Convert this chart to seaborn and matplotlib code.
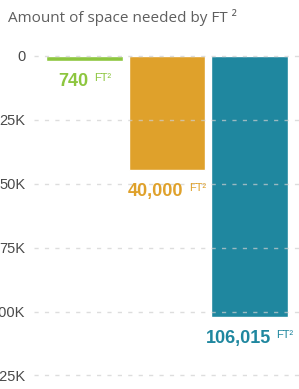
import numpy as np
import pandas as pd
import matplotlib
matplotlib.use('Agg')
import matplotlib.pyplot as plt
import seaborn as sns
from matplotlib.offsetbox import TextArea, HPacker, AnnotationBbox

# values (bar lengths as drawn, labels as printed)
categories = ['small', 'medium', 'large']
bar_values = [1800, 44700, 102200]
bar_labels = ['740', '40,000', '106,015']
colors = ['#8dc63f', '#dfa12b', '#1f879f']
yticks = [0, 25000, 50000, 75000, 100000, 125000]
ytick_labels = ['0', '25K', '50K', '75K', '100K', '125K']

df = pd.DataFrame({'cat': categories, 'val': bar_values})

sns.set_style('white')
plt.rcParams['font.family'] = ['Liberation Sans', 'DejaVu Sans']

fig = plt.figure(figsize=(2.99, 3.89), dpi=100)
ax = fig.add_axes([34 / 299, 0, 265 / 299, 341 / 389])

sns.barplot(data=df, x='cat', y='val', hue='cat', palette=colors,
            width=0.93, legend=False, saturation=1, ax=ax)

ax.set_ylim(130300, -3100)
ax.set_xlim(-0.61, 2.6)
ax.set_yticks(yticks)
ax.set_yticklabels(ytick_labels, color='#4a4a4a', fontsize=10.5)
ax.tick_params(axis='y', length=0, pad=6)
ax.set_xticks([])
ax.set_xlabel('')
ax.set_ylabel('')
for s in ax.spines.values():
    s.set_visible(False)

ax.set_axisbelow(False)
ax.yaxis.grid(True, color='#cfcfcf', linewidth=1, linestyle=(0, (3, 4.5)), alpha=0.7)

# number + small superscript unit under each bar
narrow = ['Liberation Sans Narrow', 'Liberation Sans', 'DejaVu Sans']
for i, (v, lab) in enumerate(zip(bar_values, bar_labels)):
    num = TextArea(lab, textprops=dict(fontsize=13, fontweight='bold',
                                       color=colors[i], family=narrow))
    unit = TextArea('FT\u00b2', textprops=dict(fontsize=8, color=colors[i], family=narrow))
    box = HPacker(children=[num, unit], align='top', pad=0, sep=4)
    ab = AnnotationBbox(box, (i, v), xybox=(0, -15), boxcoords='offset points',
                        frameon=False, box_alignment=(0.5, 0.5))
    ax.add_artist(ab)

fig.text(8 / 299, 1 - 18 / 389, 'Amount of space needed by FT \u00b2',
         family=['Open Sans', 'DejaVu Sans'], fontsize=11, color='#5f5f5f',
         ha='left', va='center')

fig.savefig('out.png', dpi=100)
